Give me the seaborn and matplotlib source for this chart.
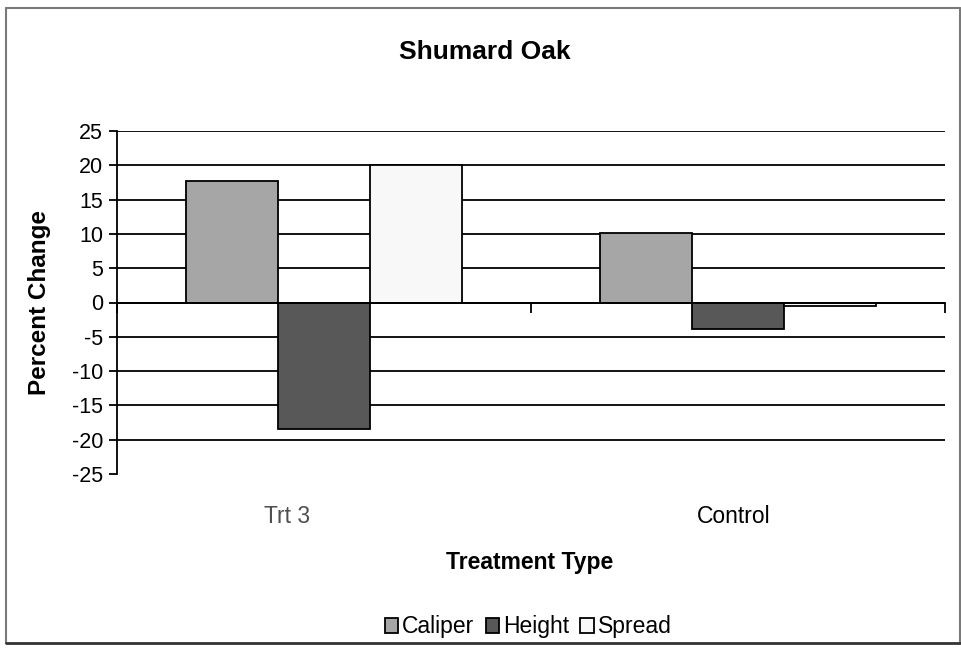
import matplotlib
matplotlib.use("Agg")
import matplotlib.pyplot as plt
import matplotlib.transforms as mtransforms
from matplotlib.lines import Line2D
import seaborn as sns
import pandas as pd

categories = ["Trt 3", "Control"]
series = ["Caliper", "Height", "Spread"]
caliper = [17.7, 10.2]
height = [-18.4, -3.9]
spread = [20.0, -0.5]
colors = ["#a6a6a6", "#585858", "#f8f8f8"]
yticks = [-25, -20, -15, -10, -5, 0, 5, 10, 15, 20, 25]

rows = []
for name, vals in zip(series, [caliper, height, spread]):
    for c, v in zip(categories, vals):
        rows.append({"Treatment": c, "Series": name, "Value": v})
df = pd.DataFrame(rows)

sns.set_theme(style="white")
plt.rcParams["font.family"] = ["Liberation Sans", "DejaVu Sans"]

fig = plt.figure(figsize=(9.62, 6.48), dpi=100)
ax = fig.add_axes([117/962, 1-474/648, (945-117)/962, (474-131)/648])

sns.barplot(data=df, x="Treatment", y="Value", hue="Series", order=categories,
            hue_order=series, palette=colors, width=0.667, edgecolor="black",
            linewidth=1.3, ax=ax, legend=True)

ax.set_xlim(-0.5, 1.5)
ax.set_ylim(-25, 25)
ax.set_yticks(yticks)
ax.set_yticklabels([str(t) for t in yticks], fontsize=15.5)
ax.yaxis.grid(True, color="black", linewidth=1.3)
ax.set_axisbelow(True)
ax.get_ygridlines()[0].set_visible(False)

for s in ["top", "right"]:
    ax.spines[s].set_visible(False)
ax.spines["left"].set_color("black")
ax.spines["left"].set_linewidth(1.3)
ax.spines["bottom"].set_position(("data", 0))
ax.spines["bottom"].set_color("black")
ax.spines["bottom"].set_linewidth(1.3)

ax.tick_params(axis="y", direction="out", length=6, width=1.3, color="black",
               left=True, pad=4, labelcolor="black")
ax.set_xticks([-0.5, 0.5, 1.5])
ax.set_xticklabels([])
ax.tick_params(axis="x", direction="out", length=7, width=1.3, color="black", bottom=True)

trans = mtransforms.blended_transform_factory(ax.transData, ax.transAxes)
label_colors = ["#505050", "black"]
label_shift = [-0.09, -0.01]
for i, (c, lc, sh) in enumerate(zip(categories, label_colors, label_shift)):
    ax.text(i + sh, -0.125, c, transform=trans, ha="center", va="center",
            fontsize=16.5, color=lc)

ax.set_xlabel("")
ax.set_ylabel("")
fig.text(40/962, 1-302/648, "Percent Change", rotation=90, ha="center", va="center",
         fontsize=17.5, fontweight="bold", color="black")
fig.text(530/962, 1-562/648, "Treatment Type", ha="center", va="center",
         fontsize=16.5, fontweight="bold", color="black")
fig.text(485/962, 1-52/648, "Shumard Oak", ha="center", va="center",
         fontsize=19, fontweight="bold", color="black")

handles, labels = ax.get_legend_handles_labels()
ax.legend_.remove()
leg = fig.legend(handles, labels, loc="center", bbox_to_anchor=(528/962, 1-627/648),
                 ncol=3, frameon=False, fontsize=16.5, handlelength=0.6,
                 handleheight=0.6, handletextpad=0.15, columnspacing=0.5)
for t in leg.get_texts():
    t.set_color("black")

# outer frame
fig.add_artist(Line2D([6/962, 6/962], [1-8/648, 1-643/648], transform=fig.transFigure, color="#7a7a7a", lw=1.5))
fig.add_artist(Line2D([6/962, 960/962], [1-8/648, 1-8/648], transform=fig.transFigure, color="#7a7a7a", lw=1.5))
fig.add_artist(Line2D([960/962, 960/962], [1-8/648, 1-643/648], transform=fig.transFigure, color="#7a7a7a", lw=1.5))
fig.add_artist(Line2D([6/962, 960/962], [1-643/648, 1-643/648], transform=fig.transFigure, color="#333333", lw=2.0))

fig.savefig("out.png", dpi=100, facecolor="white")
